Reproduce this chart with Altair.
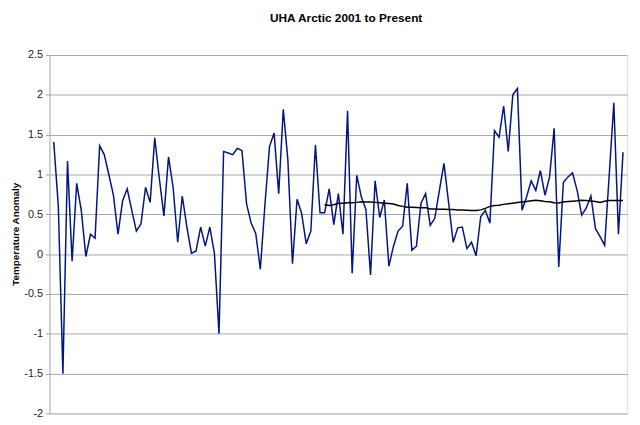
import altair as alt
import pandas as pd

# Monthly UAH Arctic anomaly, Jan 2001 onward
anomaly = [
    1.41, 0.60, -1.50, 1.17, -0.09, 0.89, 0.55, -0.03, 0.25, 0.20,
    1.36, 1.25, 1.00, 0.74, 0.25, 0.67, 0.82, 0.55, 0.29, 0.38,
    0.84, 0.65, 1.46, 0.95, 0.48, 1.22, 0.84, 0.15, 0.73, 0.34,
    0.01, 0.04, 0.34, 0.10, 0.34, 0.01, -1.00, 1.29, 1.27, 1.25,
    1.33, 1.30, 0.63, 0.39, 0.26, -0.19, 0.62, 1.35, 1.52, 0.76,
    1.82, 1.18, -0.12, 0.69, 0.51, 0.13, 0.29, 1.37, 0.52, 0.52,
    0.82, 0.37, 0.76, 0.25, 1.80, -0.24, 0.99, 0.72, 0.56, -0.26,
    0.92, 0.46, 0.68, -0.15, 0.10, 0.29, 0.35, 0.89, 0.05, 0.10,
    0.64, 0.76, 0.36, 0.45, 0.80, 1.14, 0.65, 0.15, 0.33, 0.34,
    0.07, 0.15, -0.02, 0.47, 0.55, 0.39, 1.55, 1.47, 1.86, 1.29,
    2.00, 2.08, 0.55, 0.72, 0.92, 0.80, 1.05, 0.74, 0.97, 1.58,
    -0.16, 0.90, 0.97, 1.02, 0.80, 0.49, 0.58, 0.73, 0.32, 0.22,
    0.11, 1.00, 1.90, 0.25, 1.28,
]

# 60-month running mean, drawn from month index 59 to the end
mean_start = 59
running_mean = [
    0.62, 0.61, 0.62, 0.64, 0.64, 0.645, 0.646, 0.65, 0.658, 0.655,
    0.655, 0.65, 0.645, 0.64, 0.635, 0.63, 0.61, 0.60, 0.59, 0.588,
    0.586, 0.584, 0.584, 0.567, 0.566, 0.565, 0.565, 0.562, 0.56, 0.555,
    0.553, 0.55, 0.548, 0.547, 0.556, 0.575, 0.60, 0.61, 0.615, 0.625,
    0.633, 0.64, 0.648, 0.655, 0.662, 0.67, 0.678, 0.67, 0.662, 0.658,
    0.645, 0.642, 0.655, 0.66, 0.665, 0.67, 0.678, 0.675, 0.668, 0.66,
    0.65, 0.665, 0.675, 0.675, 0.675, 0.675,
]

y_ticks = [-2, -1.5, -1, -0.5, 0, 0.5, 1, 1.5, 2, 2.5]

df_a = pd.DataFrame({"month": list(range(len(anomaly))), "value": anomaly})
df_m = pd.DataFrame({
    "month": list(range(mean_start, mean_start + len(running_mean))),
    "value": running_mean,
})

FONT = "Liberation Sans"

x_enc = alt.X(
    "month:Q",
    scale=alt.Scale(domain=[-0.93, 124.88], nice=False, zero=False),
    axis=None,
)
y_enc = alt.Y(
    "value:Q",
    scale=alt.Scale(domain=[-2, 2.5], nice=False, zero=False),
    axis=alt.Axis(
        values=y_ticks,
        title="Temperature Anomaly",
        titleFont=FONT,
        titleFontSize=10,
        titleFontWeight="bold",
        titleColor="#000000",
        titleX=-34,
        titleY=181,
        titleAngle=270,
        titleAlign="center",
        titleBaseline="middle",
        labelFont=FONT,
        labelFontSize=11,
        labelColor="#222222",
        labelPadding=3,
        grid=True,
        gridColor="#a8a8a8",
        gridWidth=1,
        domainColor="#b0b0b0",
        tickColor="#a0a0a0",
        tickSize=4,
        labelExpr="datum.value",
    ),
)

line_a = alt.Chart(df_a).mark_line(color="#00157f", strokeWidth=1.5).encode(
    x=x_enc, y=y_enc
)
line_m = alt.Chart(df_m).mark_line(color="#000000", strokeWidth=1.5).encode(
    x="month:Q", y="value:Q"
)

chart = (
    alt.layer(line_a, line_m)
    .properties(
        width=585,
        height=363,
        autosize=alt.AutoSizeParams(type="none"),
        padding={"left": 42, "top": 45, "right": 5, "bottom": 4},
        title=alt.TitleParams(
            "UHA Arctic 2001 to Present",
            font=FONT,
            fontSize=12,
            fontWeight="bold",
            color="#000000",
            anchor="middle",
            offset=24,
            dx=8,
        ),
    )
    .configure_view(stroke=None)
    .configure(background="white")
)

chart.save("out.html", embed_options={"renderer": "svg", "actions": False})
